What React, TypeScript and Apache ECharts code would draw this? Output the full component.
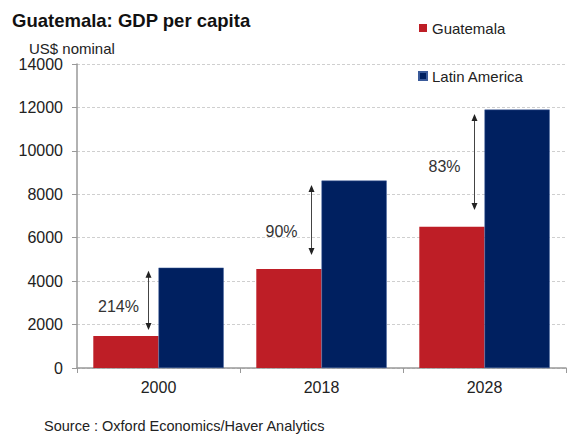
import React, { useEffect, useRef } from "react";
import * as echarts from "echarts";

const categories = ["2000", "2018", "2028"];
const guatemala = [1470, 4560, 6510];
const latinAmerica = [4620, 8630, 11900];
const arrowBottom = [1750, 5200, 7280];
const arrowTop = [4480, 8430, 11700];
const gapLabels = ["214%", "90%", "83%"];
const labelY = [2830, 6280, 9300];
const yTicks = { min: 0, max: 14000, interval: 2000 };

const FONT = "Liberation Sans, Arial, sans-serif";
const RED = "#BE1E26";
const NAVY = "#002060";

export default function App() {
  const ref = useRef<HTMLDivElement>(null);
  useEffect(() => {
    if (!ref.current) return;
    const chart = echarts.init(ref.current, null, { renderer: "svg" });
    const arrowData = categories.map((_, i) => [i, arrowBottom[i], arrowTop[i], labelY[i]]);
    chart.setOption({
      animation: false,
      backgroundColor: "#ffffff",
      textStyle: { fontFamily: FONT },
      title: [
        {
          text: "Guatemala: GDP per capita",
          left: 7,
          top: 6,
          textStyle: { fontSize: 18.5, fontWeight: "bold", color: "#111", fontFamily: FONT },
        },
        {
          text: "US$ nominal",
          left: 24,
          top: 36,
          textStyle: { fontSize: 15, fontWeight: "normal", color: "#222", fontFamily: FONT },
        },
        {
          text: "Source : Oxford Economics/Haver Analytics",
          left: 39,
          top: 413,
          textStyle: { fontSize: 14.5, fontWeight: "normal", color: "#222", fontFamily: FONT },
        },
      ],
      legend: {
        orient: "vertical",
        left: 413,
        top: 14,
        itemWidth: 8,
        itemHeight: 8,
        itemGap: 30,
        icon: "rect",
        textStyle: { fontSize: 15, color: "#222", fontFamily: FONT, lineHeight: 18 },
        data: ["Guatemala", "Latin America"],
      },
      grid: { left: 77, right: 1, top: 64, bottom: 72, containLabel: false },
      xAxis: {
        type: "category",
        data: categories,
        axisLine: { show: true, lineStyle: { color: "#999", width: 1.5 } },
        axisTick: { show: true, length: 5, lineStyle: { color: "#999" } },
        axisLabel: { fontSize: 16, color: "#222", margin: 11, fontFamily: FONT },
        splitLine: { show: false },
      },
      yAxis: {
        type: "value",
        min: yTicks.min,
        max: yTicks.max,
        interval: yTicks.interval,
        axisLine: { show: true, lineStyle: { color: "#999", width: 1.5 } },
        axisTick: { show: true, length: 5, lineStyle: { color: "#999" } },
        axisLabel: {
          fontSize: 16,
          color: "#222",
          margin: 14,
          fontFamily: FONT,
          formatter: (v: number) => String(v),
        },
        splitLine: { show: true, lineStyle: { color: "#cfcfcf", type: [3, 2], width: 1 } },
      },
      series: [
        {
          name: "Guatemala",
          type: "bar",
          data: guatemala,
          itemStyle: { color: RED },
          barGap: "0%",
          barCategoryGap: "20%",
        },
        {
          name: "Latin America",
          type: "bar",
          data: latinAmerica,
          itemStyle: { color: NAVY, borderColor: "#3a5a9a", borderWidth: 0.5 },
          barGap: "0%",
          barCategoryGap: "20%",
        },
        {
          name: "arrows",
          type: "custom",
          data: arrowData,
          z: 5,
          renderItem: (params: any, api: any) => {
            const idx = api.value(0);
            const p1 = api.coord([idx, api.value(1)]);
            const p2 = api.coord([idx, api.value(2)]);
            const pl = api.coord([idx, api.value(3)]);
            const x = p1[0] - 10;
            const yb = p1[1];
            const yt = p2[1];
            const hw = 3;
            const hh = 7;
            return {
              type: "group",
              children: [
                {
                  type: "line",
                  shape: { x1: x, y1: yt + 3, x2: x, y2: yb - 3 },
                  style: { stroke: "#444", lineWidth: 1 },
                },
                {
                  type: "polygon",
                  shape: { points: [[x, yt], [x - hw, yt + hh], [x + hw, yt + hh]] },
                  style: { fill: "#222" },
                },
                {
                  type: "polygon",
                  shape: { points: [[x, yb], [x - hw, yb - hh], [x + hw, yb - hh]] },
                  style: { fill: "#222" },
                },
                {
                  type: "text",
                  x: pl[0] - 40,
                  y: pl[1],
                  style: {
                    text: gapLabels[params.dataIndex],
                    fontSize: 16,
                    fill: "#333",
                    fontFamily: FONT,
                    align: "center",
                    verticalAlign: "middle",
                  },
                },
              ],
            };
          },
        },
      ],
    });
    return () => chart.dispose();
  }, []);
  return (
    <div
      ref={ref}
      style={{ position: "fixed", left: 0, top: 0, width: 567, height: 440, background: "#fff" }}
    />
  );
}
